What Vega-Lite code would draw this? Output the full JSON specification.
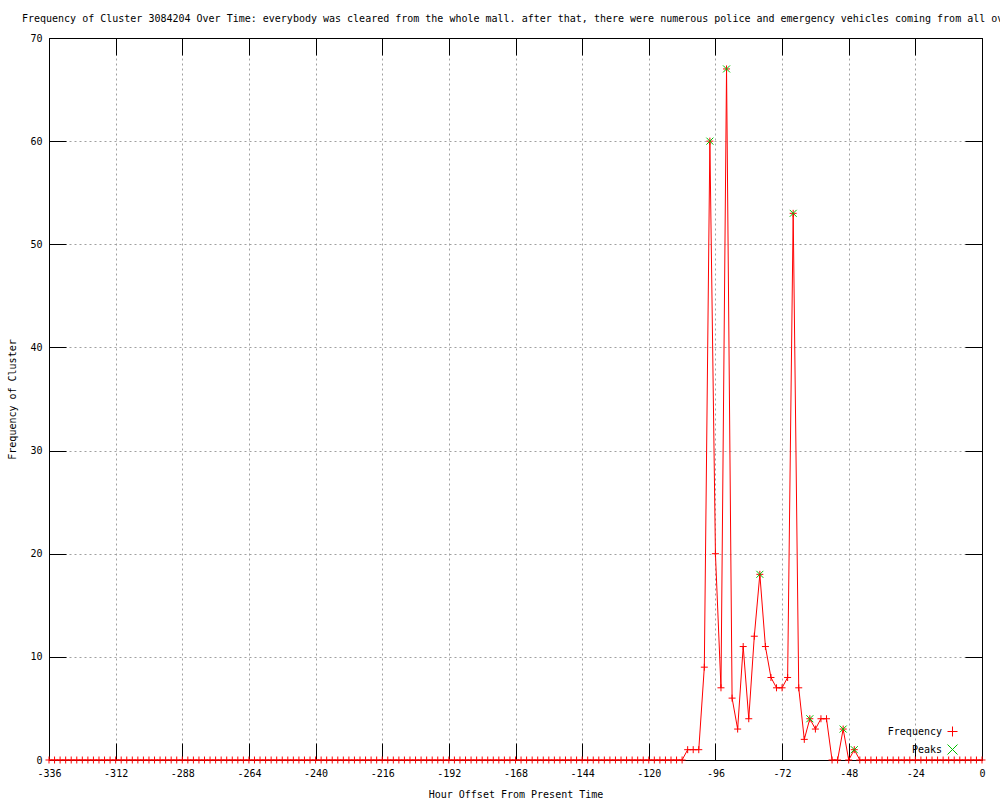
{
  "$schema": "https://vega.github.io/schema/vega-lite/v6.json",
  "width": 933,
  "height": 722,
  "autosize": "none",
  "padding": {"left": 49, "top": 38, "right": 18, "bottom": 40},
  "background": "white",
  "title": {
    "text": "Frequency of Cluster 3084204 Over Time: everybody was cleared from the whole mall. after that, there were numerous police and emergency vehicles coming from all over",
    "anchor": "start",
    "align": "left",
    "dx": 14,
    "offset": 9,
    "font": "DejaVu Sans Mono",
    "fontSize": 10,
    "fontWeight": "normal",
    "color": "black"
  },
  "config": {
    "view": {"stroke": "black", "strokeWidth": 1},
    "axis": {
      "domainColor": "black",
      "tickColor": "black",
      "labelColor": "black",
      "titleColor": "black",
      "labelFont": "DejaVu Sans Mono",
      "labelFontSize": 10,
      "titleFont": "DejaVu Sans Mono",
      "titleFontSize": 10,
      "titleFontWeight": "normal",
      "gridColor": "#a0a0a0",
      "gridDash": [2, 3],
      "gridWidth": 1
    },
    "legend": {
      "labelFont": "DejaVu Sans Mono",
      "labelFontSize": 10,
      "labelColor": "black",
      "symbolStrokeWidth": 1
    }
  },
  "datasets": {
    "freq": [
      {"h": -336, "f": 0}, {"h": -334, "f": 0}, {"h": -332, "f": 0}, {"h": -330, "f": 0}, {"h": -328, "f": 0},
      {"h": -326, "f": 0}, {"h": -324, "f": 0}, {"h": -322, "f": 0}, {"h": -320, "f": 0}, {"h": -318, "f": 0},
      {"h": -316, "f": 0}, {"h": -314, "f": 0}, {"h": -312, "f": 0}, {"h": -310, "f": 0}, {"h": -308, "f": 0},
      {"h": -306, "f": 0}, {"h": -304, "f": 0}, {"h": -302, "f": 0}, {"h": -300, "f": 0}, {"h": -298, "f": 0},
      {"h": -296, "f": 0}, {"h": -294, "f": 0}, {"h": -292, "f": 0}, {"h": -290, "f": 0}, {"h": -288, "f": 0},
      {"h": -286, "f": 0}, {"h": -284, "f": 0}, {"h": -282, "f": 0}, {"h": -280, "f": 0}, {"h": -278, "f": 0},
      {"h": -276, "f": 0}, {"h": -274, "f": 0}, {"h": -272, "f": 0}, {"h": -270, "f": 0}, {"h": -268, "f": 0},
      {"h": -266, "f": 0}, {"h": -264, "f": 0}, {"h": -262, "f": 0}, {"h": -260, "f": 0}, {"h": -258, "f": 0},
      {"h": -256, "f": 0}, {"h": -254, "f": 0}, {"h": -252, "f": 0}, {"h": -250, "f": 0}, {"h": -248, "f": 0},
      {"h": -246, "f": 0}, {"h": -244, "f": 0}, {"h": -242, "f": 0}, {"h": -240, "f": 0}, {"h": -238, "f": 0},
      {"h": -236, "f": 0}, {"h": -234, "f": 0}, {"h": -232, "f": 0}, {"h": -230, "f": 0}, {"h": -228, "f": 0},
      {"h": -226, "f": 0}, {"h": -224, "f": 0}, {"h": -222, "f": 0}, {"h": -220, "f": 0}, {"h": -218, "f": 0},
      {"h": -216, "f": 0}, {"h": -214, "f": 0}, {"h": -212, "f": 0}, {"h": -210, "f": 0}, {"h": -208, "f": 0},
      {"h": -206, "f": 0}, {"h": -204, "f": 0}, {"h": -202, "f": 0}, {"h": -200, "f": 0}, {"h": -198, "f": 0},
      {"h": -196, "f": 0}, {"h": -194, "f": 0}, {"h": -192, "f": 0}, {"h": -190, "f": 0}, {"h": -188, "f": 0},
      {"h": -186, "f": 0}, {"h": -184, "f": 0}, {"h": -182, "f": 0}, {"h": -180, "f": 0}, {"h": -178, "f": 0},
      {"h": -176, "f": 0}, {"h": -174, "f": 0}, {"h": -172, "f": 0}, {"h": -170, "f": 0}, {"h": -168, "f": 0},
      {"h": -166, "f": 0}, {"h": -164, "f": 0}, {"h": -162, "f": 0}, {"h": -160, "f": 0}, {"h": -158, "f": 0},
      {"h": -156, "f": 0}, {"h": -154, "f": 0}, {"h": -152, "f": 0}, {"h": -150, "f": 0}, {"h": -148, "f": 0},
      {"h": -146, "f": 0}, {"h": -144, "f": 0}, {"h": -142, "f": 0}, {"h": -140, "f": 0}, {"h": -138, "f": 0},
      {"h": -136, "f": 0}, {"h": -134, "f": 0}, {"h": -132, "f": 0}, {"h": -130, "f": 0}, {"h": -128, "f": 0},
      {"h": -126, "f": 0}, {"h": -124, "f": 0}, {"h": -122, "f": 0}, {"h": -120, "f": 0}, {"h": -118, "f": 0},
      {"h": -116, "f": 0}, {"h": -114, "f": 0}, {"h": -112, "f": 0}, {"h": -110, "f": 0}, {"h": -108, "f": 0},
      {"h": -106, "f": 1}, {"h": -104, "f": 1}, {"h": -102, "f": 1}, {"h": -100, "f": 9}, {"h": -98, "f": 60},
      {"h": -96, "f": 20}, {"h": -94, "f": 7}, {"h": -92, "f": 67}, {"h": -90, "f": 6}, {"h": -88, "f": 3},
      {"h": -86, "f": 11}, {"h": -84, "f": 4}, {"h": -82, "f": 12}, {"h": -80, "f": 18}, {"h": -78, "f": 11},
      {"h": -76, "f": 8}, {"h": -74, "f": 7}, {"h": -72, "f": 7}, {"h": -70, "f": 8}, {"h": -68, "f": 53},
      {"h": -66, "f": 7}, {"h": -64, "f": 2}, {"h": -62, "f": 4}, {"h": -60, "f": 3}, {"h": -58, "f": 4},
      {"h": -56, "f": 4}, {"h": -54, "f": 0}, {"h": -52, "f": 0}, {"h": -50, "f": 3}, {"h": -48, "f": 0},
      {"h": -46, "f": 1}, {"h": -44, "f": 0}, {"h": -42, "f": 0}, {"h": -40, "f": 0}, {"h": -38, "f": 0},
      {"h": -36, "f": 0}, {"h": -34, "f": 0}, {"h": -32, "f": 0}, {"h": -30, "f": 0}, {"h": -28, "f": 0},
      {"h": -26, "f": 0}, {"h": -24, "f": 0}, {"h": -22, "f": 0}, {"h": -20, "f": 0}, {"h": -18, "f": 0},
      {"h": -16, "f": 0}, {"h": -14, "f": 0}, {"h": -12, "f": 0}, {"h": -10, "f": 0}, {"h": -8, "f": 0},
      {"h": -6, "f": 0}, {"h": -4, "f": 0}, {"h": -2, "f": 0}, {"h": 0, "f": 0}
    ],
    "peaks": [
      {"h": -98, "f": 60}, {"h": -92, "f": 67}, {"h": -80, "f": 18}, {"h": -68, "f": 53},
      {"h": -62, "f": 4}, {"h": -50, "f": 3}, {"h": -46, "f": 1}
    ]
  },
  "layer": [
    {
      "data": {"name": "freq"},
      "mark": {"type": "line", "color": "#ff0000", "strokeWidth": 1},
      "encoding": {
        "x": {
          "field": "h", "type": "quantitative",
          "scale": {"domain": [-336, 0], "nice": false, "zero": false},
          "axis": {
            "orient": "bottom",
            "values": [-336, -312, -288, -264, -240, -216, -192, -168, -144, -120, -96, -72, -48, -24, 0],
            "labelExpr": "'' + datum.value",
            "tickSize": -17,
            "labelPadding": 25,
            "title": "Hour Offset From Present Time",
            "titlePadding": 11,
            "grid": true,
            "labelFlush": false
          }
        },
        "y": {
          "field": "f", "type": "quantitative",
          "scale": {"domain": [0, 70], "nice": false},
          "axis": {
            "orient": "left",
            "values": [0, 10, 20, 30, 40, 50, 60, 70],
            "tickSize": -17,
            "labelPadding": 24,
            "title": "Frequency of Cluster",
            "titlePadding": 12,
            "grid": true,
            "labelFlush": false
          }
        }
      }
    },
    {
      "data": {"name": "freq"},
      "mark": {"type": "point", "filled": false, "strokeWidth": 1, "opacity": 1, "size": 49},
      "encoding": {
        "x": {"field": "h", "type": "quantitative", "axis": null},
        "y": {"field": "f", "type": "quantitative", "axis": null},
        "color": {
          "datum": "Frequency",
          "scale": {"domain": ["Frequency", "Peaks"], "range": ["#ff0000", "#00c000"]},
          "legend": {"title": null, "orient": "none", "legendX": 898, "legendY": 688, "rowPadding": 3, "labelAlign": "right", "labelOffset": -16}
        },
        "shape": {
          "datum": "Frequency",
          "scale": {"domain": ["Frequency", "Peaks"], "range": ["M-1,0H1M0,-1V1", "M-1,-1L1,1M-1,1L1,-1"]},
          "legend": {"title": null, "orient": "none", "legendX": 898, "legendY": 688, "rowPadding": 3, "labelAlign": "right", "labelOffset": -16}
        }
      }
    },
    {
      "data": {"name": "peaks"},
      "mark": {"type": "point", "filled": false, "strokeWidth": 1, "opacity": 1, "size": 49},
      "encoding": {
        "x": {"field": "h", "type": "quantitative", "axis": null},
        "y": {"field": "f", "type": "quantitative", "axis": null},
        "color": {"datum": "Peaks"},
        "shape": {"datum": "Peaks"}
      }
    },
    {
      "data": {"name": "freq"},
      "mark": {"type": "point", "opacity": 0},
      "encoding": {
        "x": {
          "field": "h", "type": "quantitative",
          "axis": {"orient": "top", "values": [-336, -312, -288, -264, -240, -216, -192, -168, -144, -120, -96, -72, -48, -24, 0], "labels": false, "title": null, "tickSize": -17, "grid": false}
        },
        "y": {
          "field": "f", "type": "quantitative",
          "axis": {"orient": "right", "values": [0, 10, 20, 30, 40, 50, 60, 70], "labels": false, "title": null, "tickSize": -17, "grid": false}
        }
      }
    }
  ]
}
